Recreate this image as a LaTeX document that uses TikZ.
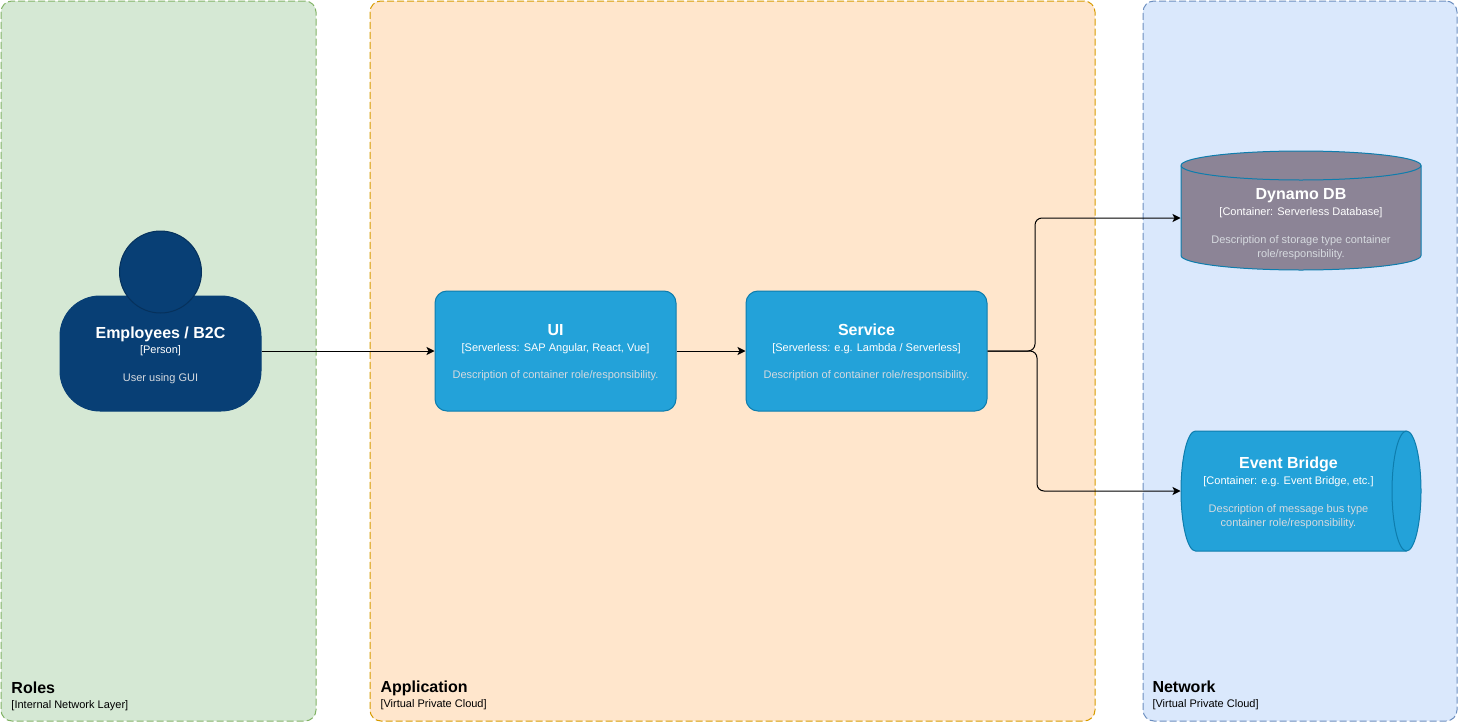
\documentclass[tikz,border=0pt]{standalone}
\usepackage{fontspec}
\setmainfont{Liberation Sans}
\usetikzlibrary{arrows.meta}
\definecolor{boxblue}{HTML}{23A2D9}
\definecolor{boxedge}{HTML}{0E7DAD}
\definecolor{dbgrey}{HTML}{8C8496}
\definecolor{persblue}{HTML}{083F75}
\definecolor{persedge}{HTML}{06315C}
\definecolor{desctxt}{HTML}{D6DADF}
\definecolor{roleg}{HTML}{D5E8D4}
\definecolor{roleline}{HTML}{82B366}
\definecolor{appo}{HTML}{FFE6CC}
\definecolor{appline}{HTML}{D79B00}
\definecolor{netb}{HTML}{DAE8FC}
\definecolor{netline}{HTML}{6C8EBF}
\newcommand{\ctitle}[1]{{\fontsize{16}{19}\selectfont\bfseries\rule{0pt}{15pt}#1}}
\newcommand{\csub}[1]{{\fontsize{11}{14}\selectfont #1}}
\newcommand{\cdesc}[1]{{\fontsize{11}{14}\selectfont\color{desctxt} #1}}
\begin{document}
\begin{tikzpicture}[x=1pt,y=-1pt,line width=1pt,
  panel/.style={draw,dash pattern=on 7pt off 3pt,rounded corners=11pt,minimum height=720pt,inner sep=0pt},
  tag/.style={anchor=south west,align=left,inner sep=0pt,text=black},
  mod/.style={draw=boxedge,fill=boxblue,rounded corners=12pt,minimum width=241pt,minimum height=120pt,align=center,text=white,inner sep=0pt},
  barrel/.style={draw=boxedge},
  barrelbox/.style={minimum width=240pt,minimum height=120pt,inner sep=0pt},
  barreltxt/.style={align=center,text=white,inner sep=0pt},
  link/.style={draw=black,-{Stealth[length=8pt,width=8pt,inset=2pt]}}]
\useasboundingbox (0,0) rectangle (1460,723);
% layers
\node[panel,fill=roleg,draw=roleline,minimum width=315pt] (roles) at (158.5,361) {};
\node[panel,fill=appo,draw=appline,minimum width=725pt] (app) at (732.5,361) {};
\node[panel,fill=netb,draw=netline,minimum width=314pt] (net) at (1300,361) {};
\node[tag] (rolestag) at (11,711) {\ctitle{Roles}\\[3pt]\csub{[Internal Network Layer]}};
\node[tag] (apptag) at (380,710) {\ctitle{Application}\\[3pt]\csub{[Virtual Private Cloud]}};
\node[tag] (nettag) at (1152,710) {\ctitle{Network}\\[3pt]\csub{[Virtual Private Cloud]}};
% person
\node[mod,fill=persblue,draw=persblue,rounded corners=40pt,minimum width=201pt,minimum height=115pt] (emp) at (160.5,353.5)
  {\ctitle{Employees / B2C}\\[3pt]\csub{[Person]}\\[16pt]\cdesc{User using GUI}};
\node[circle,draw=persedge,fill=persblue,minimum size=82pt,inner sep=0pt] (head) at (160.5,272) {};
% containers
\node[mod] (ui) at (555.5,351) {\ctitle{UI}\\[4pt]\csub{[Serverless: SAP Angular, React, Vue]}\\[15pt]\cdesc{Description of container role/responsibility.}};
\node[mod] (service) at (866.5,351) {\ctitle{Service}\\[4pt]\csub{[Serverless: e.g. Lambda / Serverless]}\\[15pt]\cdesc{Description of container role/responsibility.}};
% database drum
\node[barrelbox] (dynamo) at (1301,210.5) {};
\draw[barrel,fill=dbgrey] (1181,165.5) arc[start angle=180,end angle=0,x radius=120pt,y radius=14.5pt] -- (1421,255.5)
  arc[start angle=0,end angle=-180,x radius=120pt,y radius=14.5pt] -- cycle;
\draw[barrel] (1181,165.5) arc[start angle=180,end angle=360,x radius=120pt,y radius=14.5pt];
\node[barreltxt] (dynamotxt) at (1301,222.5)
  {\ctitle{Dynamo DB}\\[4pt]\csub{[Container: Serverless Database]}\\[16pt]\cdesc{Description of storage type container}\\[2pt]\cdesc{role/responsibility.}};
% message bus drum
\node[barrelbox] (bridge) at (1301,491) {};
\draw[barrel,fill=boxblue] (1195.5,431) -- (1406.5,431) arc[start angle=90,end angle=-90,x radius=14.5pt,y radius=60pt]
  -- (1195.5,551) arc[start angle=270,end angle=90,x radius=14.5pt,y radius=60pt] -- cycle;
\draw[barrel] (1406.5,431) arc[start angle=90,end angle=270,x radius=14.5pt,y radius=60pt];
\node[barreltxt] (bridgetxt) at (1288.5,491)
  {\ctitle{Event Bridge}\\[4pt]\csub{[Container: e.g. Event Bridge, etc.]}\\[16pt]\cdesc{Description of message bus type}\\[2pt]\cdesc{container role/responsibility.}};
% connectors
\coordinate (upbend) at (1035,218);
\coordinate (downbend) at (1037,491);
\draw[link] (emp.east |- ui.west) -- (ui.west);
\draw[link] (ui.east) -- (service.west);
\draw[link,rounded corners=7pt] (service.east) -| (upbend) -- (dynamo.west |- upbend);
\draw[link,rounded corners=7pt] (service.east) -| (downbend) -- (bridge.west);
\end{tikzpicture}
\end{document}
